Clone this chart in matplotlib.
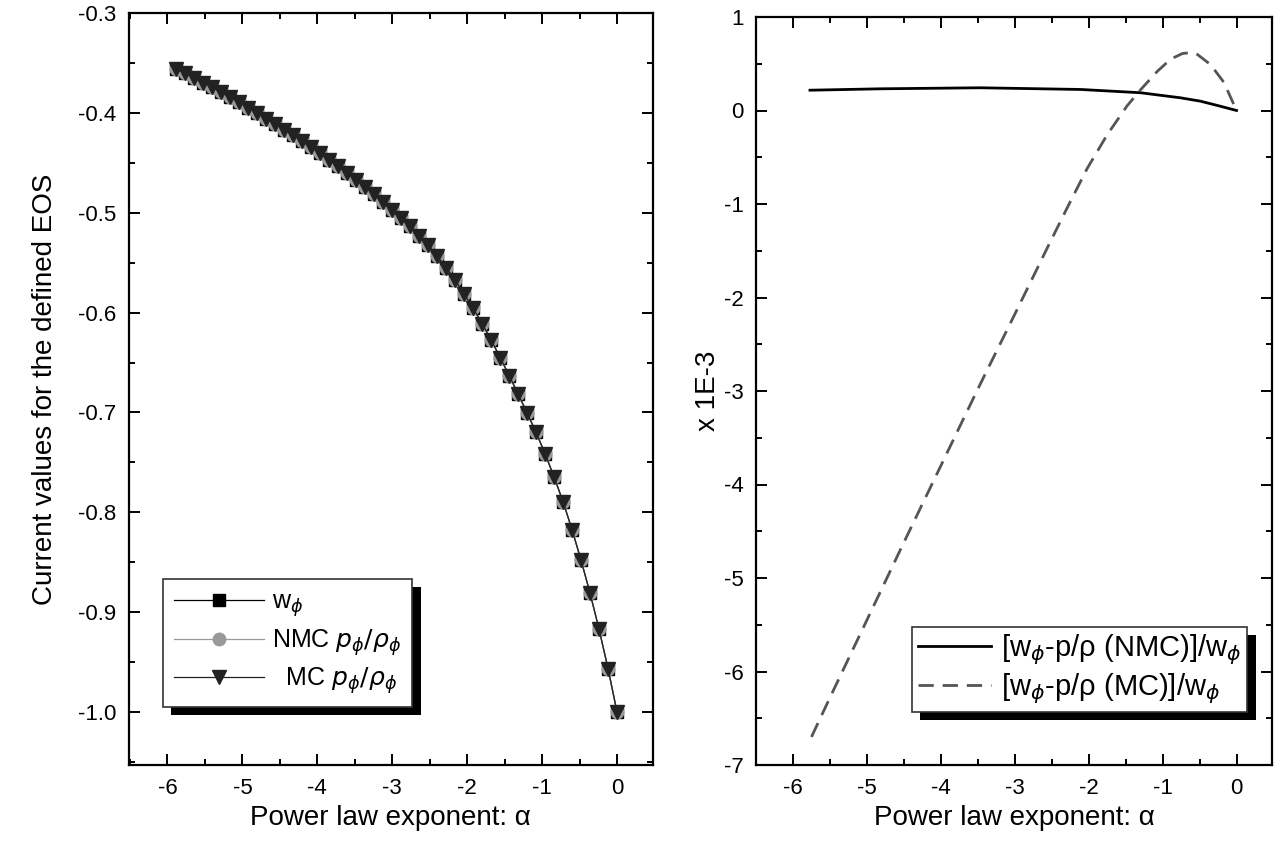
import matplotlib

matplotlib.use("Agg")
import matplotlib.pyplot as plt
import matplotlib.patheffects as pe
from matplotlib.ticker import MultipleLocator, FormatStrFormatter

plt.rcParams["font.family"] = ["Liberation Sans", "DejaVu Sans"]
plt.rcParams["mathtext.fontset"] = "dejavusans"
plt.rcParams["axes.unicode_minus"] = False

# left panel: EOS values vs power-law exponent
alpha = [-5.88, -5.76, -5.64, -5.52, -5.40, -5.28, -5.16, -5.04, -4.92, -4.80,
         -4.68, -4.56, -4.44, -4.32, -4.20, -4.08, -3.96, -3.84, -3.72, -3.60,
         -3.48, -3.36, -3.24, -3.12, -3.00, -2.88, -2.76, -2.64, -2.52, -2.40,
         -2.28, -2.16, -2.04, -1.92, -1.80, -1.68, -1.56, -1.44, -1.32, -1.20,
         -1.08, -0.96, -0.84, -0.72, -0.60, -0.48, -0.36, -0.24, -0.12, 0.00]
w_phi = [-0.3560, -0.3605, -0.3650, -0.3700, -0.3745, -0.3795, -0.3845, -0.3895, -0.3950, -0.4003,
         -0.4057, -0.4112, -0.4168, -0.4225, -0.4284, -0.4344, -0.4406, -0.4470, -0.4535, -0.4602,
         -0.4671, -0.4742, -0.4815, -0.4891, -0.4970, -0.5051, -0.5135, -0.5228, -0.5326, -0.5436,
         -0.5551, -0.5676, -0.5811, -0.5956, -0.6111, -0.6274, -0.6450, -0.6630, -0.6815, -0.7005,
         -0.7200, -0.7415, -0.7645, -0.7895, -0.8175, -0.8480, -0.8810, -0.9170, -0.9565, -1.0000]
nmc_ratio = w_phi
mc_ratio = w_phi

# right panel: relative differences (x 1E-3)
alpha_nmc = [-5.77, -4.82, -3.47, -2.11, -1.30, -0.76, -0.49, -0.22, 0.0]
diff_nmc = [0.217, 0.232, 0.243, 0.225, 0.190, 0.136, 0.100, 0.046, 0.0]
alpha_mc = [-5.75, -5.5, -5.0, -4.5, -4.0, -3.5, -3.0, -2.56, -2.29, -2.02, -1.75,
            -1.48, -1.30, -1.07, -0.89, -0.73, -0.60, -0.53, -0.35, -0.17, 0.0]
diff_mc = [-6.70, -6.28, -5.45, -4.62, -3.80, -2.98, -2.18, -1.47, -1.04, -0.62, -0.26,
           0.05, 0.22, 0.42, 0.55, 0.61, 0.62, 0.60, 0.49, 0.30, 0.0]

fig = plt.figure(figsize=(12.82, 8.48), dpi=100)
ax1 = fig.add_axes([128.5 / 1282, 83 / 848, 524.5 / 1282, 752 / 848])
ax2 = fig.add_axes([756 / 1282, 83 / 848, 516 / 1282, 748 / 848])


def style_axes(ax, xlim):
    for s in ax.spines.values():
        s.set_linewidth(1.6)
    ax.tick_params(which="both", direction="in", top=True, right=True, width=1.4,
                   labelsize=16, pad=9)
    ax.tick_params(which="major", length=8)
    ax.tick_params(which="minor", length=4)
    ax.xaxis.set_major_locator(MultipleLocator(1))
    ax.xaxis.set_minor_locator(MultipleLocator(0.5))
    ax.set_xlim(*xlim)
    ax.set_xlabel("Power law exponent: α", fontsize=20, labelpad=5)


def add_shadow(leg):
    frame = leg.get_frame()
    frame.set_edgecolor("#333333")
    frame.set_linewidth(1.2)
    frame.set_path_effects([pe.SimplePatchShadow(offset=(6, -6), shadow_rgbFace="k", alpha=1.0),
                            pe.Normal()])


# left panel
ax1.plot(alpha, w_phi, color="black", lw=0.9, marker="s", ms=9, mfc="black", mec="black",
         label="w$_{\\phi}$")
ax1.plot(alpha, nmc_ratio, color="#999999", lw=0.9, marker="o", ms=9, mfc="#999999", mec="#999999",
         label="NMC $p_{\\phi}/\\rho_{\\phi}$")
ax1.plot(alpha, mc_ratio, color="#222222", lw=0.9, marker="v", ms=10, mfc="#222222", mec="#222222",
         label="  MC $p_{\\phi}/\\rho_{\\phi}$")
style_axes(ax1, (-6.52, 0.48))
ax1.set_ylim(-1.053, -0.3)
ax1.yaxis.set_major_locator(MultipleLocator(0.1))
ax1.yaxis.set_minor_locator(MultipleLocator(0.05))
ax1.yaxis.set_major_formatter(FormatStrFormatter("%.1f"))
ax1.set_ylabel("Current values for the defined EOS", fontsize=20, labelpad=14)
leg1 = ax1.legend(loc="lower left", bbox_to_anchor=(0.066, 0.077), borderaxespad=0,
                  fontsize=18, fancybox=False, framealpha=1, handlelength=3.6,
                  handletextpad=0.3, labelspacing=0.3, borderpad=0.45)
add_shadow(leg1)

# right panel
ax2.plot(alpha_nmc, diff_nmc, color="black", lw=2.0, label="[w$_{\\phi}$-p/ρ (NMC)]/w$_{\\phi}$")
ax2.plot(alpha_mc, diff_mc, color="#555555", lw=2.0, ls=(0, (5.5, 3.2)),
         label="[w$_{\\phi}$-p/ρ (MC)]/w$_{\\phi}$")
style_axes(ax2, (-6.5, 0.48))
ax2.set_ylim(-7, 1)
ax2.yaxis.set_major_locator(MultipleLocator(1))
ax2.yaxis.set_minor_locator(MultipleLocator(0.5))
ax2.yaxis.set_major_formatter(FormatStrFormatter("%d"))
ax2.set_ylabel("x 1E-3", fontsize=20, labelpad=2)
leg2 = ax2.legend(loc="lower right", bbox_to_anchor=(0.952, 0.071), borderaxespad=0,
                  fontsize=21, fancybox=False, framealpha=1, handlelength=2.5,
                  handletextpad=0.35, labelspacing=0.15, borderpad=0.2)
add_shadow(leg2)

fig.savefig("out.png", dpi=100)
